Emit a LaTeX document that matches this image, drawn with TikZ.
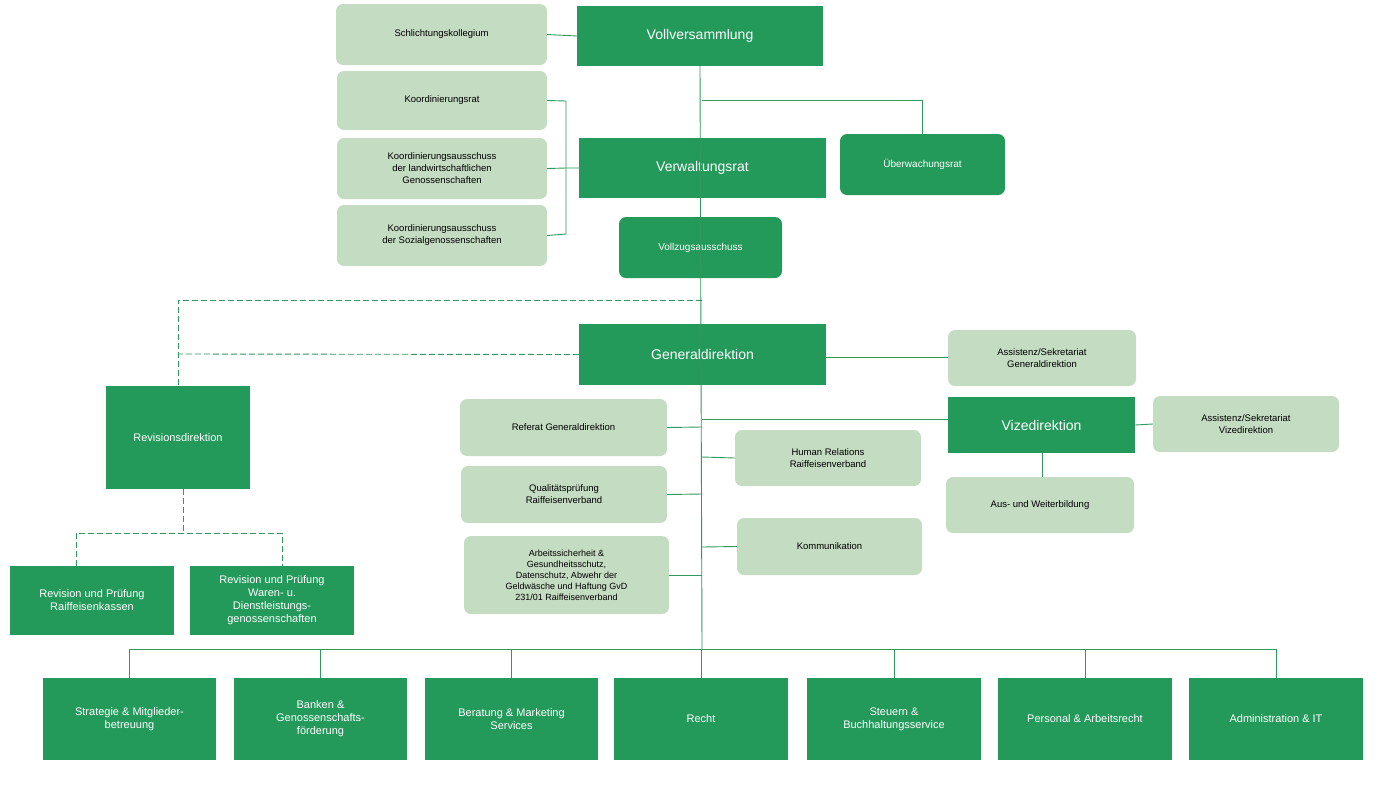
\documentclass[tikz,border=0pt]{standalone}
\usepackage{fontspec}
\setmainfont{Liberation Sans}
\definecolor{dg}{HTML}{23995A}
\definecolor{lg}{HTML}{C4DCC2}
\definecolor{ln}{HTML}{2E9A5E}
\begin{document}
\begin{tikzpicture}[x=1pt,y=-1pt,
 dark/.style={fill=dg,text=white,align=center,font=\fontsize{11}{13}\selectfont},
 big/.style={font=\fontsize{14}{16}\selectfont},
 lite/.style={fill=lg,rounded corners=7pt,text=black,align=center,font=\fontsize{9.5}{12}\selectfont},
 rdark/.style={fill=dg,rounded corners=7pt,text=white,align=center,font=\fontsize{10}{12}\selectfont},
 con/.style={draw=ln,line width=0.9pt},
 dcon/.style={draw=ln,line width=0.9pt,dash pattern=on 6pt off 3pt}]
\useasboundingbox (0,0) rectangle (1400,788);
\def\Box#1#2#3#4#5#6#7{\node[#1,minimum width={#5-#3},minimum height={#6-#4},inner sep=1pt] (#2) at ({(#3+#5)/2},{(#4+#6)/2}) {#7};}
\Box{lite}{sch}{336}{4}{547}{65}{Schlichtungskollegium}
\Box{dark,big}{vv}{577}{6}{823}{66}{Vollversammlung}
\Box{lite}{kr}{337}{71}{547}{130}{Koordinierungsrat}
\Box{lite}{kl}{337}{138}{547}{199}{Koordinierungsausschuss\\der landwirtschaftlichen\\Genossenschaften}
\Box{lite}{ks}{337}{205}{547}{266}{Koordinierungsausschuss\\der Sozialgenossenschaften}
\Box{dark,big}{vr}{579}{138}{826}{198}{Verwaltungsrat}
\Box{rdark}{ue}{840}{134}{1005}{195}{Überwachungsrat}
\Box{rdark}{vz}{619}{217}{782}{278}{Vollzugsausschuss}
\Box{dark,big}{gd}{579}{324}{826}{385}{Generaldirektion}
\Box{lite}{agd}{948}{330}{1136}{386}{Assistenz/Sekretariat\\Generaldirektion}
\Box{dark}{rd}{106}{386}{250}{489}{Revisionsdirektion}
\Box{lite}{ref}{460}{399}{667}{456}{Referat Generaldirektion}
\Box{lite}{qp}{461}{466}{667}{523}{Qualitätsprüfung\\Raiffeisenverband}
\Box{lite,font=\fontsize{9}{11}\selectfont}{as}{464}{536}{669}{614}{Arbeitssicherheit \&\\Gesundheitsschutz,\\Datenschutz, Abwehr der\\Geldwäsche und Haftung GvD\\231/01 Raiffeisenverband}
\Box{lite}{hr}{735}{430}{921}{486}{Human Relations\\Raiffeisenverband}
\Box{lite}{ko}{737}{518}{922}{575}{Kommunikation}
\Box{dark,big}{vd}{948}{397}{1135}{453}{Vizedirektion}
\Box{lite}{avd}{1153}{396}{1339}{452}{Assistenz/Sekretariat\\Vizedirektion}
\Box{lite}{aw}{946}{477}{1134}{533}{Aus- und Weiterbildung}
\Box{dark}{rk}{10}{566}{174}{635}{Revision und Prüfung\\Raiffeisenkassen}
\Box{dark}{rw}{190}{566}{354}{635}{Revision und Prüfung\\Waren- u.\\Dienstleistungs-\\genossenschaften}
\Box{dark}{b1}{43}{678}{216}{760}{Strategie \& Mitglieder-\\betreuung}
\Box{dark}{b2}{234}{678}{407}{760}{Banken \&\\Genossenschafts-\\förderung}
\Box{dark}{b3}{425}{678}{598}{760}{Beratung \& Marketing\\Services}
\Box{dark}{b4}{614}{678}{788}{760}{Recht}
\Box{dark}{b5}{807}{678}{981}{760}{Steuern \&\\Buchhaltungsservice}
\Box{dark}{b6}{998}{678}{1172}{760}{Personal \& Arbeitsrecht}
\Box{dark}{b7}{1189}{678}{1363}{760}{Administration \& IT}
\coordinate (bar) at (702,649);
\draw[con] (vv.south) -- (bar);
\draw[con] (sch.east) -- (vv.west);
\draw[con] (702,100) -| (ue.north);
\draw[con] (kr.east) -- (566,101) -- (566,234) -- (ks.east);
\draw[con] (kl.east) -- (566,168) -- (vr.west);
\draw[dcon] (702,300) -| (rd.north);
\draw[dcon] (gd.west) -- (178,354);
\draw[con] (gd.east |- 0,357) -- (agd.west |- 0,357);
\draw[con] (702,419) -- (vd.west |- 0,419);
\draw[con] (vd.east) -- (avd.west);
\draw[con] (vd.south -| 1042,0) -- (aw.north -| 1042,0);
\draw[con] (ref.east) -- (702,427);
\draw[con] (qp.east) -- (702,494);
\draw[con] (as.east) -- (702,575);
\draw[con] (hr.west) -- (702,457);
\draw[con] (ko.west) -- (702,547);
\draw[dcon] (183,489) -- (183,533);
\draw[dcon] (rk.north -| 76,0) -- (76,533) -- (282,533) -- (rw.north -| 282,0);
\draw[con] (130,649) -- (1276,649);
\foreach \b in {b1,b2,b3,b4,b5,b6,b7} \draw[con] (\b.north |- bar) -- (\b.north);
\end{tikzpicture}
\end{document}
